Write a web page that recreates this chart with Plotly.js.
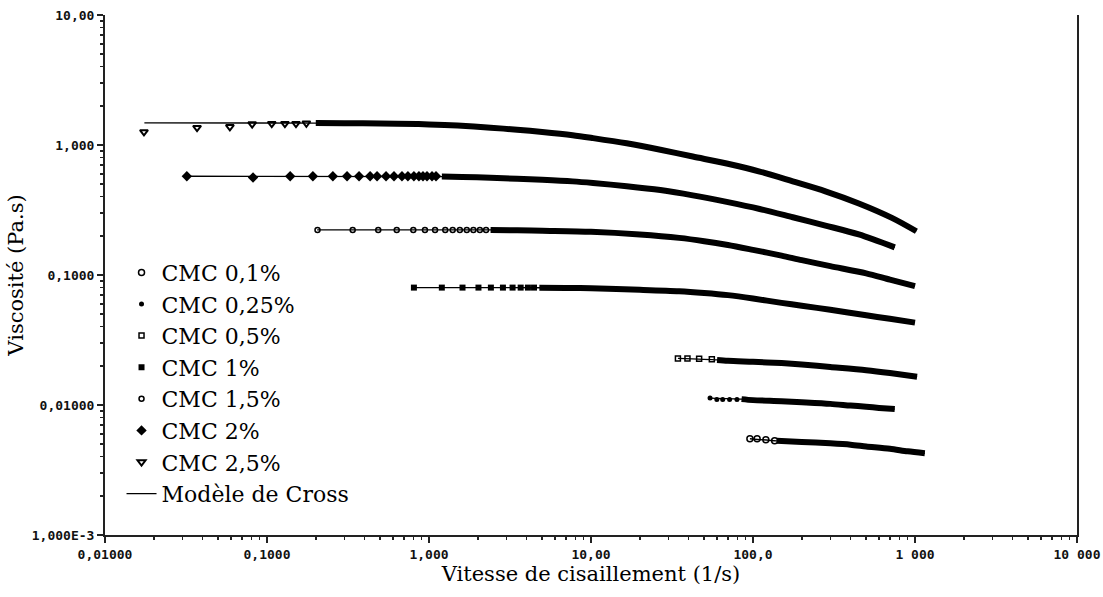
<!DOCTYPE html>
<html>
<head>
<meta charset="utf-8">
<script src="https://cdn.plot.ly/plotly-3.0.1.min.js"></script>
<style>html,body{margin:0;padding:0;background:#fff;}#chart{width:1103px;height:597px;}</style>
</head>
<body>
<div id="chart"></div>
<script>
// ---- Data (shear rate in 1/s, viscosity in Pa.s) ----
const seriesNames = ["CMC 0,1%", "CMC 0,25%", "CMC 0,5%", "CMC 1%", "CMC 1,5%", "CMC 2%", "CMC 2,5%"];
const modelName = "Modèle de Cross";

// sparse measured points (low shear)
const mx01 = [95.7, 106, 120, 136];
const my01 = [0.0055, 0.0055, 0.0054, 0.0053];
const mx025 = [54.3, 59.8, 65.0, 71.7, 79.6];
const my025 = [0.0113, 0.0110, 0.0110, 0.0110, 0.0110];
const mx05 = [34.4, 39.4, 46.5, 55.7];
const my05 = [0.0228, 0.0228, 0.0227, 0.0225];
const mx10 = [0.807, 1.20, 1.61, 2.02, 2.41, 2.86, 3.28, 3.68, 4.08, 4.45];
const my10 = [0.080, 0.080, 0.080, 0.080, 0.080, 0.080, 0.080, 0.080, 0.080, 0.080];
const mx15 = [0.205, 0.338, 0.486, 0.632, 0.80, 0.944, 1.09, 1.26, 1.40, 1.55, 1.71, 1.88, 2.06, 2.25];
const my15 = [0.222, 0.222, 0.222, 0.222, 0.222, 0.222, 0.222, 0.222, 0.222, 0.222, 0.222, 0.222, 0.222, 0.222];
const mx20 = [0.032, 0.082, 0.139, 0.192, 0.255, 0.312, 0.37, 0.433, 0.478, 0.543, 0.608, 0.681, 0.741, 0.807, 0.867, 0.918, 0.972, 1.044, 1.105];
const my20 = [0.575, 0.562, 0.575, 0.575, 0.575, 0.575, 0.575, 0.575, 0.575, 0.575, 0.575, 0.575, 0.575, 0.575, 0.575, 0.575, 0.575, 0.575, 0.575];
const mx25 = [0.0174, 0.037, 0.059, 0.081, 0.107, 0.129, 0.151, 0.175];
const my25 = [1.26, 1.36, 1.38, 1.45, 1.46, 1.46, 1.46, 1.47];

// dense measured points (they merge into a thick band)
const bx01 = [140, 200, 300, 400, 500, 700, 900, 1150];
const by01 = [0.0053, 0.0052, 0.00507, 0.00495, 0.0048, 0.0046, 0.0044, 0.00425];
const bx025 = [85, 100, 150, 200, 300, 400, 500, 600, 750];
const by025 = [0.0111, 0.0109, 0.0107, 0.0105, 0.0102, 0.0099, 0.0097, 0.0095, 0.0093];
const bx05 = [60, 70, 100, 150, 200, 300, 500, 700, 1030];
const by05 = [0.0222, 0.0219, 0.0215, 0.021, 0.0205, 0.0196, 0.0185, 0.0176, 0.0165];
const bx10 = [4.8, 7, 10, 20, 35, 50, 70, 100, 150, 200, 300, 500, 700, 1000];
const by10 = [0.0798, 0.0795, 0.079, 0.077, 0.075, 0.0727, 0.070, 0.066, 0.061, 0.058, 0.054, 0.049, 0.046, 0.043];
const bx15 = [2.4, 3.5, 5, 10, 20, 35, 50, 70, 100, 150, 200, 300, 500, 700, 1000];
const by15 = [0.222, 0.221, 0.219, 0.215, 0.205, 0.193, 0.182, 0.17, 0.156, 0.141, 0.13, 0.117, 0.103, 0.092, 0.082];
const bx20 = [1.2, 1.6, 2.4, 3.5, 5, 7.7, 10.3, 16.6, 26.8, 42.5, 68.8, 110, 176, 280, 450, 750];
const by20 = [0.572, 0.568, 0.56, 0.55, 0.54, 0.525, 0.51, 0.482, 0.45, 0.41, 0.365, 0.322, 0.278, 0.24, 0.205, 0.163];
const bx25 = [0.2, 0.3, 0.5, 0.84, 1.0, 1.5, 2.4, 3.5, 5, 7.7, 10.3, 16.6, 26.8, 42.5, 68.8, 110, 176, 280, 450, 720, 1020];
const by25 = [1.475, 1.47, 1.465, 1.45, 1.44, 1.41, 1.36, 1.31, 1.26, 1.19, 1.13, 1.03, 0.92, 0.815, 0.72, 0.625, 0.525, 0.44, 0.355, 0.275, 0.217];

// Cross model: plateau start point of each fitted line
const modelStartX = [95.7, 54.3, 34.4, 0.807, 0.204, 0.032, 0.0175];
const modelStartY = [0.0055, 0.0113, 0.0228, 0.080, 0.222, 0.575, 1.48];

// tick labels
const xTickVals = [0.01, 0.1, 1, 10, 100, 1000, 10000];
const xTickText = ["0,01000", "0,1000", "1,000", "10,00", "100,0", "1 000", "10 000"];
const yTickVals = [0.001, 0.01, 0.1, 1, 10];
const yTickText = ["1,000E-3", "0,01000", "0,1000", "1,000", "10,00"];

// ---- Build traces ----
const MX = [mx01, mx025, mx05, mx10, mx15, mx20, mx25];
const MY = [my01, my025, my05, my10, my15, my20, my25];
const BX = [bx01, bx025, bx05, bx10, bx15, bx20, bx25];
const BY = [by01, by025, by05, by10, by15, by20, by25];
const symbols = [
  {symbol: "circle-open", size: 6, line: {width: 1.5, color: "#000"}},
  {symbol: "circle", size: 5, line: {width: 0}},
  {symbol: "square-open", size: 5, line: {width: 1.5, color: "#000"}},
  {symbol: "square", size: 6, line: {width: 0}},
  {symbol: "circle-open", size: 5, line: {width: 1.5, color: "#000"}},
  {symbol: "diamond", size: 8, line: {width: 0}},
  {symbol: "triangle-down-open", size: 7, line: {width: 2, color: "#000"}}
];

const traces = [];
const bandTraces = [];
for (let i = 0; i < seriesNames.length; i++) {
  bandTraces.push({
    x: BX[i], y: BY[i], type: "scatter", mode: "lines",
    line: {color: "#000", width: 6, shape: "spline", smoothing: 0.8}, showlegend: false, hoverinfo: "skip"
  });
}
for (let i = 0; i < seriesNames.length; i++) {
  traces.push({
    x: MX[i], y: MY[i], type: "scatter", mode: "markers", name: seriesNames[i],
    marker: Object.assign({color: "#000"}, symbols[i]), legendrank: 1000 + i
  });
}
// Cross model line (one trace, segments separated by null)
const modX = [], modY = [];
for (let i = 0; i < seriesNames.length; i++) {
  modX.push(modelStartX[i], ...BX[i], null);
  modY.push(modelStartY[i], ...BY[i], null);
}
const modelTrace = {
  x: modX, y: modY, type: "scatter", mode: "lines", name: modelName,
  line: {color: "#000", width: 1.3, shape: "spline", smoothing: 0.8}, connectgaps: false, legendrank: 2000
};

const data = bandTraces.concat([modelTrace]).concat(traces);

const bold = s => "<b>" + s + "</b>";
const tickFont = {family: "DejaVu Sans Mono, Liberation Mono, monospace", size: 13, color: "#111"};
const titleFont = {family: "DejaVu Serif, serif", size: 21, color: "#000"};

const layout = {
  width: 1103, height: 597,
  margin: {l: 105, r: 26, t: 15, b: 62},
  paper_bgcolor: "#fff", plot_bgcolor: "#fff",
  showlegend: true,
  legend: {
    x: 0.017, y: 0.545, xanchor: "left", yanchor: "top",
    bgcolor: "rgba(0,0,0,0)", borderwidth: 0,
    font: {family: "DejaVu Serif, serif", size: 22, color: "#000"},
    itemwidth: 30
  },
  xaxis: {
    type: "log", range: [-2, 4],
    tickmode: "array", tickvals: xTickVals, ticktext: xTickText.map(bold),
    tickfont: tickFont, ticks: "outside", ticklen: 6, tickwidth: 1.5, tickcolor: "#222",
    showline: true, linecolor: "#222", linewidth: 2, mirror: false,
    showgrid: false, zeroline: false,
    minor: {ticks: "outside", ticklen: 3, tickwidth: 1.5, tickcolor: "#222", dtick: "D1", showgrid: false},
    title: {text: "Vitesse de cisaillement (1/s)", font: titleFont, standoff: 6}
  },
  yaxis: {
    type: "log", range: [-3, 1],
    tickmode: "array", tickvals: yTickVals, ticktext: yTickText.map(bold),
    tickfont: tickFont, ticks: "outside", ticklen: 6, tickwidth: 1.5, tickcolor: "#222",
    showline: true, linecolor: "#222", linewidth: 2, mirror: true,
    showgrid: false, zeroline: false,
    minor: {ticks: "outside", ticklen: 3, tickwidth: 1.5, tickcolor: "#222", dtick: "D1", showgrid: false},
    title: {text: "Viscosité (Pa.s)", font: titleFont, standoff: 2}
  }
};

Plotly.newPlot("chart", data, layout, {displayModeBar: false, staticPlot: true});
</script>
</body>
</html>
